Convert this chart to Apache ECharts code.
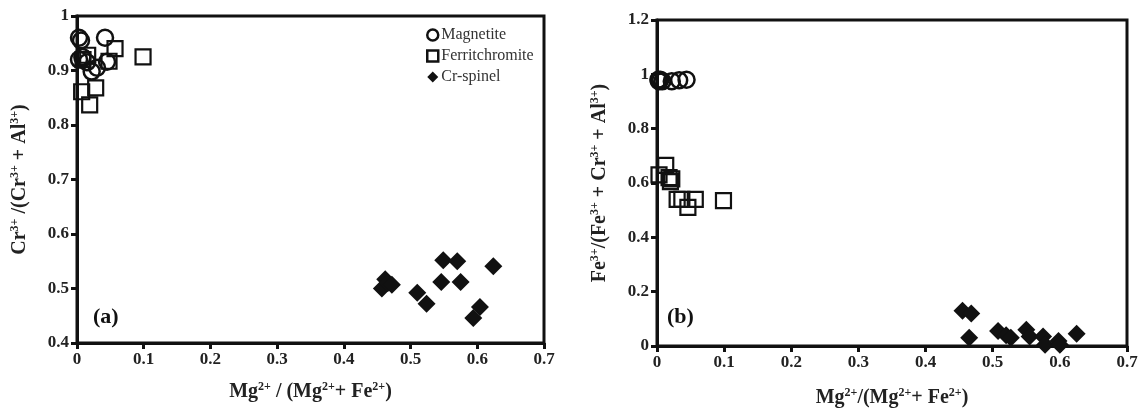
<!DOCTYPE html>
<html><head><meta charset="utf-8">
<script src="https://cdn.jsdelivr.net/npm/echarts@6/dist/echarts.min.js"></script>
<style>html,body{margin:0;padding:0;background:#fff}#c{width:1142px;height:413px}</style>
</head><body><div id="c"></div>
<script>
// Panel (a): Mg/(Mg+Fe2+) vs Cr/(Cr+Al)
const magnetiteA = [[0.003,0.96],[0.006,0.955],[0.042,0.96],[0.003,0.92],[0.008,0.925],[0.015,0.915],[0.022,0.898],[0.03,0.905],[0.045,0.916]];
const ferritA = [[0.057,0.94],[0.099,0.925],[0.016,0.928],[0.009,0.92],[0.048,0.917],[0.028,0.868],[0.007,0.861],[0.019,0.837]];
const spinelA = [[0.549,0.552],[0.570,0.550],[0.624,0.541],[0.546,0.512],[0.575,0.512],[0.510,0.492],[0.524,0.472],[0.604,0.466],[0.594,0.446],[0.457,0.50],[0.462,0.517],[0.466,0.510],[0.472,0.507]];
// Panel (b): Mg/(Mg+Fe2+) vs Fe3+/(Fe3+ + Cr + Al)
const magnetiteB = [[0.002,0.98],[0.003,0.975],[0.005,0.98],[0.008,0.975],[0.022,0.975],[0.033,0.978],[0.044,0.98]];
const ferritB = [[0.003,0.63],[0.013,0.665],[0.018,0.62],[0.02,0.605],[0.022,0.615],[0.03,0.54],[0.037,0.54],[0.046,0.51],[0.057,0.54],[0.099,0.535]];
const spinelB = [[0.455,0.13],[0.468,0.12],[0.465,0.03],[0.508,0.055],[0.52,0.04],[0.527,0.03],[0.55,0.06],[0.555,0.035],[0.575,0.035],[0.578,0.005],[0.598,0.018],[0.6,0.005],[0.625,0.045]];
const seriesNames = ['Magnetite','Ferritchromite','Cr-spinel'];
const xTicksA = {min:0,max:0.7,interval:0.1};
const yTicksA = {min:0.4,max:1,interval:0.1};
const yTicksB = {min:0,max:1.2,interval:0.2};

const FONT = '"Liberation Serif", "DejaVu Serif", serif';
const rich = {
  n:{fontFamily:FONT,fontWeight:'bold',fontSize:20,color:'#222',lineHeight:21,verticalAlign:'bottom'},
  s:{fontFamily:FONT,fontWeight:'bold',fontSize:12,color:'#222',lineHeight:21,verticalAlign:'top'}
};
const axisLine = {show:true,lineStyle:{color:'#111',width:3}};
const axisTick = {show:true,inside:false,length:6,lineStyle:{color:'#111',width:3}};
const axisLabel = {fontFamily:FONT,fontWeight:'bold',fontSize:17,color:'#222',margin:8};

const chart = echarts.init(document.getElementById('c'));
function mk(name, data, xi){
  const base = {type:'scatter',name:name,data:data,xAxisIndex:xi,yAxisIndex:xi,z:3};
  if(name==='Magnetite') return Object.assign(base,{symbol:'circle',symbolSize:16,itemStyle:{color:'rgba(255,255,255,0)',borderColor:'#111',borderWidth:2.5,opacity:1}});
  if(name==='Ferritchromite') return Object.assign(base,{symbol:'rect',symbolSize:15,itemStyle:{color:'rgba(255,255,255,0)',borderColor:'#111',borderWidth:2.2,opacity:1}});
  return Object.assign(base,{symbol:'diamond',symbolSize:[18,18],itemStyle:{color:'#111',opacity:1}});
}
chart.setOption({
  animation:false,
  grid:[
    {left:77,top:16,right:598,bottom:70,show:true,borderColor:'#111',borderWidth:3,containLabel:false,outerBoundsMode:'none'},
    {left:657,top:20,right:15,bottom:67,show:true,borderColor:'#111',borderWidth:3,containLabel:false,outerBoundsMode:'none'}
  ],
  legend:{
    data:[
      {name:'Magnetite',icon:'circle',itemStyle:{color:'rgba(255,255,255,0)',borderColor:'#111',borderWidth:2.5,opacity:1}},
      {name:'Ferritchromite',icon:'rect',itemStyle:{color:'rgba(255,255,255,0)',borderColor:'#111',borderWidth:2.5,opacity:1}},
      {name:'Cr-spinel',icon:'diamond',itemStyle:{color:'#111',opacity:1}}
    ],
    orient:'vertical',left:421,top:22,itemWidth:11,itemHeight:11,itemGap:5,
    textStyle:{fontFamily:FONT,fontSize:16,color:'#333',padding:[0,0,0,-2]}
  },
  xAxis:[
    {gridIndex:0,type:'value',...xTicksA,axisLine,axisTick,axisLabel,splitLine:{show:false},
     name:'{n|Mg}{s|2+}{n| / (Mg}{s|2+}{n|+ Fe}{s|2+}{n|)}',nameLocation:'middle',nameGap:38,nameTextStyle:{rich}},
    {gridIndex:1,type:'value',...xTicksA,axisLine,axisTick,axisLabel,splitLine:{show:false},
     name:'{n|Mg}{s|2+}{n|/(Mg}{s|2+}{n|+ Fe}{s|2+}{n|)}',nameLocation:'middle',nameGap:41,nameTextStyle:{rich}}
  ],
  yAxis:[
    {gridIndex:0,type:'value',...yTicksA,axisLine,axisTick,axisLabel,splitLine:{show:false},
     name:'{n|Cr}{s|3+}{n| /(Cr}{s|3+}{n| + Al}{s|3+}{n|)}',nameLocation:'middle',nameGap:47,nameRotate:90,nameTextStyle:{rich}},
    {gridIndex:1,type:'value',...yTicksB,axisLine,axisTick,axisLabel,splitLine:{show:false},
     name:'{n|Fe}{s|3+}{n|/(Fe}{s|3+}{n| + Cr}{s|3+}{n| + Al}{s|3+}{n|)}',nameLocation:'middle',nameGap:47,nameRotate:90,nameTextStyle:{rich}}
  ],
  graphic:[
    {type:'text',left:93,top:306,style:{text:'(a)',font:'bold 22px "Liberation Serif", serif',fill:'#111'}},
    {type:'text',left:667,top:306,style:{text:'(b)',font:'bold 22px "Liberation Serif", serif',fill:'#111'}}
  ],
  series:[
    mk('Magnetite',magnetiteA,0),mk('Ferritchromite',ferritA,0),mk('Cr-spinel',spinelA,0),
    mk('Magnetite',magnetiteB,1),mk('Ferritchromite',ferritB,1),mk('Cr-spinel',spinelB,1)
  ]
});
</script></body></html>
